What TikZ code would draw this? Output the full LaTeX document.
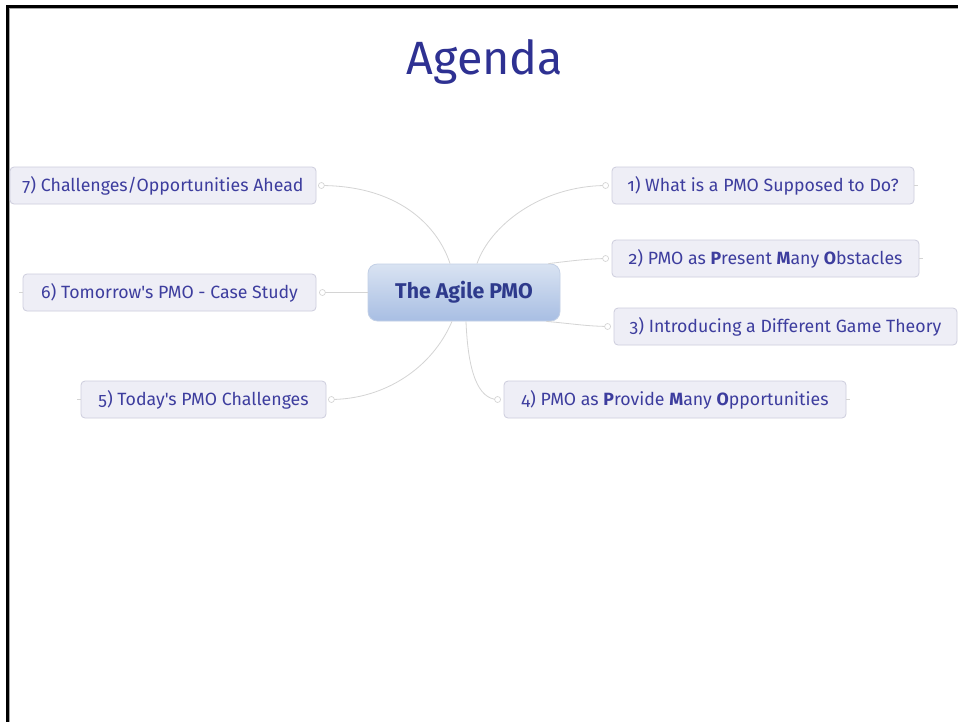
\documentclass[tikz,border=0pt]{standalone}
\usepackage{fontspec}
\setmainfont{Fira Sans}[Numbers=OldStyle,Ligatures=TeXOff]
\begin{document}
\begin{tikzpicture}[x=0.75pt,y=-0.75pt,
  leaftext/.style={text=leafblue,font=\fontsize{13.3}{15}\selectfont},
  leaf/.style={draw=leafedge,fill=leaffill,rounded corners=3pt,line width=0.6pt,
    minimum height=37*0.75pt,minimum width=#1*0.75pt,inner sep=0pt,leaftext},
  hub/.style={draw=hubedge,top color=hubtop,bottom color=hubbottom,rounded corners=7pt,
    line width=0.6pt,minimum width=192*0.75pt,minimum height=57*0.75pt,
    text=hubtext,font=\fontsize{16}{18}\bfseries\selectfont},
  conn/.style={draw=linegray,line width=0.6pt},
  knob/.style={circle,draw=linegray,fill=white,line width=0.5pt,inner sep=0pt,minimum size=4.5pt},
  stub/.style={draw=linegray,line width=0.6pt}]
\definecolor{leafblue}{HTML}{3D3D9E}
\definecolor{leafedge}{HTML}{CDCDDD}
\definecolor{leaffill}{HTML}{EEEEF6}
\definecolor{hubedge}{HTML}{C3D0E6}
\definecolor{hubtop}{HTML}{D9E3F2}
\definecolor{hubbottom}{HTML}{A8BEE3}
\definecolor{hubtext}{HTML}{2E3A8C}
\definecolor{titleblue}{HTML}{2E3192}
\definecolor{linegray}{HTML}{D4D4D4}
\useasboundingbox (0,0) rectangle (958,722);
\fill[white] (0,0) rectangle (958,722);

% slide frame
\draw[black,line width=2.4pt] (7.5,722) -- (7.5,6.5) -- (958,6.5);
\draw[gray!70,line width=0.7pt] (9.8,722) -- (9.8,8.8) -- (958,8.8);

% title
\node[text=titleblue,font=\fontsize{35}{40}\selectfont] (title) at (485,62) {Agenda};

% central topic
\node[hub] (hub) at (464,292.5) {The Agile PMO};

% branch topics
\node[leaf=306] (b7) at (163,185.5) {7) Challenges/Opportunities Ahead};
\node[leaf=293] (b6) at (169.5,292.5) {6) Tomorrow's PMO - Case Study};
\node[leaf=245] (b5) at (203.5,399.5) {5) Today's PMO Challenges};
\node[leaf=302] (b1) at (763,185.5) {1) What is a PMO Supposed to Do?};
\node[leaf=307] (b2) at (765.5,258.5) {2) PMO as \textbf{P}resent \textbf{M}any \textbf{O}bstacles};
\node[leaf=343] (b3) at (785.5,326.5) {3) Introducing a Different Game Theory};
\node[leaf=342] (b4) at (675,399.5) {4) PMO as \textbf{P}rovide \textbf{M}any \textbf{O}pportunities};

% connection points on the branch topics
\coordinate (k7) at ([xshift=5*0.75pt]b7.east);
\coordinate (k6) at ([xshift=6*0.75pt]b6.east);
\coordinate (k5) at ([xshift=5*0.75pt]b5.east);
\coordinate (k1) at ([xshift=-6*0.75pt]b1.west);
\coordinate (k2) at ([xshift=-6*0.75pt]b2.west);
\coordinate (k3) at ([xshift=-6*0.75pt]b3.west);
\coordinate (k4) at ([xshift=-6*0.75pt]b4.west);

% connectors from the central topic
\draw[conn] ([xshift=-14*0.75pt]hub.north) .. controls (440,232) and (405,186) .. (k7);
\draw[conn] ([xshift=13*0.75pt]hub.north) .. controls (490,226) and (540,186) .. (k1);
\draw[conn] ([xshift=-12*0.75pt]hub.north east) .. controls (570,261) and (585,259) .. (k2);
\draw[conn] ([xshift=-14*0.75pt]hub.south east) .. controls (575,324) and (585,326) .. (k3);
\draw[conn] ([xshift=2*0.75pt]hub.south) .. controls (468,372) and (478,399) .. (k4);
\draw[conn] ([xshift=-12*0.75pt]hub.south) .. controls (432,368) and (385,399) .. (k5);
\draw[conn] (hub.west) -- (k6);

% knobs
\foreach \k in {k1,k2,k3,k4,k5,k6,k7}
  \node[knob] at (\k) {};

% small stubs on the outer sides
\draw[stub] (b6.west) -- ++(-4,0);
\draw[stub] (b5.west) -- ++(-4,0);
\draw[stub] (b1.east) -- ++(4,0);
\draw[stub] (b2.east) -- ++(4,0);
\draw[stub] (b4.east) -- ++(4,0);
\end{tikzpicture}
\end{document}
